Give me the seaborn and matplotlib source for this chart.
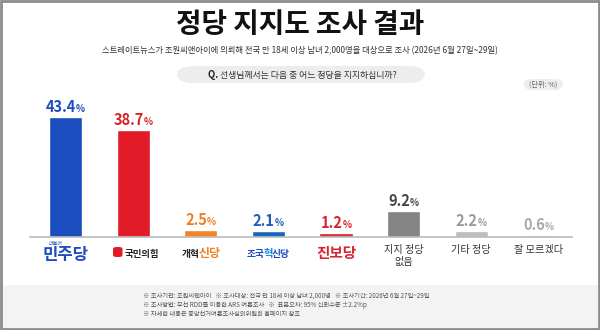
import matplotlib
matplotlib.use("Agg")
import matplotlib.pyplot as plt
import seaborn as sns
import pandas as pd
from matplotlib.patches import FancyBboxPatch, Rectangle

# ---- data ----
categories = ["더불어민주당", "국민의힘", "개혁신당", "조국혁신당", "진보당", "지지 정당 없음", "기타 정당", "잘 모르겠다"]
values = [43.4, 38.7, 2.5, 2.1, 1.2, 9.2, 2.2, 0.6]
bar_colors = ["#1B4DBE", "#E11B28", "#F28424", "#1765BF", "#E0202E", "#858585", "#BDBDBD", "#D5D5D5"]
label_colors = ["#1B4DBE", "#D9232D", "#F07E22", "#1B5FB8", "#D9232D", "#444444", "#9A9A9A", "#A8A8A8"]

title = "정당 지지도 조사 결과"
subtitle = "스트레이트뉴스가 조원씨앤아이에 의뢰해 전국 만 18세 이상 남녀 2,000명을 대상으로 조사 (2026년 6월 27일~29일)"
question = "선생님께서는 다음 중 어느 정당을 지지하십니까?"
unit = "(단위: %)"
footer = [
    "※ 조사기관: 조원씨앤아이   ※ 조사대상: 전국 만 18세 이상 남녀 2,000명   ※ 조사기간: 2026년 6월 27일~29일",
    "※ 조사방법: 무선 RDD를 이용한 ARS 여론조사   ※  표본오차: 95% 신뢰수준 ±2.2%p",
    "※ 자세한 내용은 중앙선거여론조사심의위원회 홈페이지 참조",
]

sns.set_theme(style="white")
plt.rcParams["font.family"] = ["Noto Sans CJK KR", "DejaVu Sans"]

W, H = 600, 330
fig = plt.figure(figsize=(6, 3.3), dpi=100)
fig.patch.set_facecolor("white")

# footer band and frame
fig.patches.append(Rectangle((0, 0), 1, (330 - 285) / H, transform=fig.transFigure,
                             facecolor="#F3F3F3", edgecolor="none", zorder=0))
fig.patches.append(Rectangle((0.002, 0.003), 0.996, 0.994, transform=fig.transFigure,
                             facecolor="none", edgecolor="#8C8C8C", linewidth=2, zorder=5))

ax = fig.add_axes([30 / W, 1 - 236.7 / H, 542 / W, 138 / H])
df = pd.DataFrame({"cat": categories, "val": values})
sns.barplot(data=df, x="cat", y="val", hue="cat", palette=bar_colors, legend=False,
            width=0.49, saturation=1, ax=ax)
ax.set_xlim(-0.525, 7.49)
ax.set_ylim(0, 50)
ax.set_facecolor("none")
for s in ["top", "right", "left"]:
    ax.spines[s].set_visible(False)
ax.spines["bottom"].set_color("#BBBBBB")
ax.spines["bottom"].set_linewidth(1.2)
ax.set_xticks([])
ax.set_yticks([])
ax.set_xlabel("")
ax.set_ylabel("")

renderer = fig.canvas.get_renderer()


def rich(xpix, ypix, parts, kern=0.0):
    """parts: list of (text, color, size, weight); centered at xpix, baseline at ypix (pixels from top)."""
    texts, widths = [], []
    for s, c, sz, w in parts:
        t = fig.text(0, 0, s, color=c, fontsize=sz, fontweight=w, va="baseline", ha="left")
        widths.append(t.get_window_extent(renderer).width + kern)
        texts.append(t)
    total = sum(widths) - kern
    x0 = xpix - total / 2
    for t, w in zip(texts, widths):
        t.set_position((x0 / W, 1 - ypix / H))
        x0 += w
    return texts


# titles
fig.text(0.5, 1 - 25 / H, title, ha="center", va="center", fontsize=20, fontweight="bold", color="#111111")
fig.text(0.5, 1 - 51 / H, subtitle, ha="center", va="center", fontsize=6.0, color="#333333")
fig.patches.append(FancyBboxPatch((177 / W, 1 - 83 / H), 248 / W, 17 / H,
                                  boxstyle="round,pad=0,rounding_size=0.028", transform=fig.transFigure,
                                  facecolor="#EDEDED", edgecolor="none", zorder=1))
rich(302.5, 77.8, [("Q. ", "#222222", 6.8, "bold"), (question, "#333333", 6.4, "normal")])
fig.patches.append(FancyBboxPatch((524 / W, 1 - 90 / H), 39 / W, 11 / H,
                                  boxstyle="round,pad=0,rounding_size=0.015", transform=fig.transFigure,
                                  facecolor="#EEEEEE", edgecolor="none", zorder=1))
fig.text(543.5 / W, 1 - 85 / H, unit, ha="center", va="center", fontsize=5.2, color="#666666")

# value labels
for i, (v, c) in enumerate(zip(values, label_colors)):
    xp, yp = ax.transData.transform((i, v))
    ypix_top = H - yp
    rich(xp, ypix_top - 5, [(f"{v:.1f}", c, 10.5, "bold"), ("%", c, 6.8, "bold")])

# category labels
centers = [ax.transData.transform((i, 0))[0] for i in range(len(categories))]
ylab = 258
# 더불어민주당
rich(centers[0], ylab + 2, [("민주당", "#1B4DBE", 12, "bold")])
fig.text(centers[0] / W - 0.017, 1 - 243.5 / H, "더불어", fontsize=3.6, color="#1B4DBE", ha="center", va="center")
# 국민의힘 with icon
fig.patches.append(FancyBboxPatch((113 / W, 1 - 257 / H), 9.5 / W, 10 / H,
                                  boxstyle="round,pad=0,rounding_size=0.006", transform=fig.transFigure,
                                  facecolor="#E11B28", edgecolor="none", zorder=3))
rich(centers[1] + 9, ylab - 1, [("국민의힘", "#222222", 6.8, "bold")])
rich(centers[2], ylab - 1, [("개혁", "#222222", 7.0, "bold"), ("신당", "#F07E22", 8.6, "bold")], kern=-1)
rich(centers[3], ylab - 1, [("조국", "#1B4DBE", 7.0, "bold"), ("혁", "#1D8BE0", 7.4, "bold"),
                            ("신당", "#1B4DBE", 7.0, "bold")], kern=-1)
rich(centers[4], ylab, [("진보당", "#D9232D", 10.5, "bold")])
rich(centers[5], ylab - 5, [("지지 정당", "#333333", 7.3, "normal")])
rich(centers[5], ylab + 7, [("없음", "#333333", 7.3, "normal")])
rich(centers[6], ylab - 5, [("기타 정당", "#333333", 7.3, "normal")])
rich(centers[7], ylab - 5, [("잘 모르겠다", "#333333", 7.3, "normal")])

# footer
for k, line in enumerate(footer):
    fig.text(143 / W, 1 - (295.5 + k * 9.2) / H, line, ha="left", va="center", fontsize=4.55, color="#555555")

fig.savefig("out.png", dpi=100, facecolor="white")
